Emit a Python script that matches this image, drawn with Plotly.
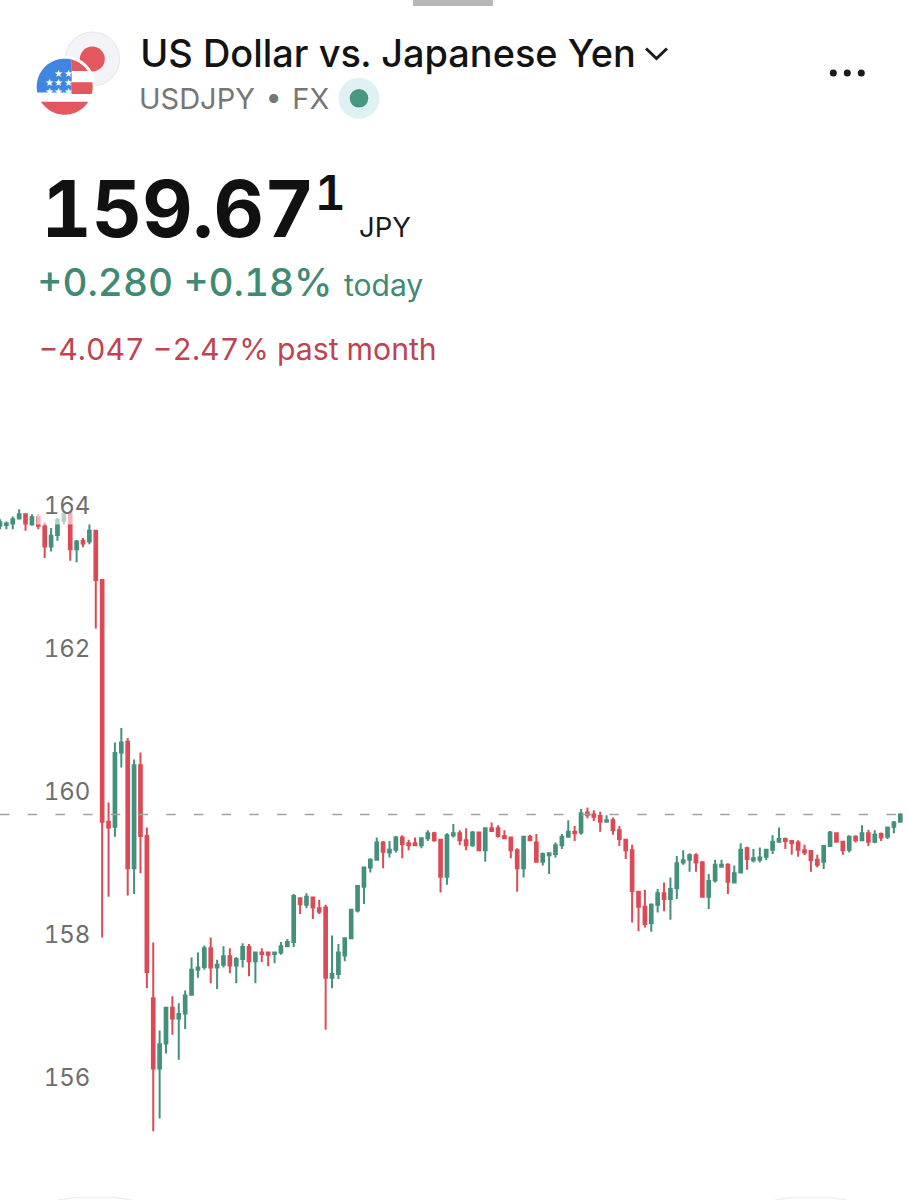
import numpy as np
import plotly.graph_objects as go

# USD/JPY candles
opens = [163.71, 163.72, 163.74, 163.81, 163.87, 163.73, 163.83, 163.70, 163.42, 163.58, 163.78, 163.88,
         163.38, 163.50, 163.49, 163.64, 162.95, 159.57, 159.50, 160.54, 160.69, 158.92, 160.36, 159.37,
         157.10, 156.12, 156.47, 156.97, 156.82, 156.89, 157.15, 157.50, 157.54, 157.80, 157.53, 157.57,
         157.69, 157.56, 157.65, 157.82, 157.62, 157.74, 157.74, 157.72, 157.74, 157.83, 157.89, 158.50,
         158.41, 158.51, 158.36, 158.37, 157.39, 157.44, 157.70, 157.94, 158.33, 158.66, 158.93, 159.04,
         159.28, 159.14, 159.18, 159.35, 159.27, 159.27, 159.24, 159.34, 159.41, 159.32, 158.80, 159.38,
         159.41, 159.31, 159.24, 159.42, 159.17, 159.48, 159.48, 159.37, 159.35, 159.17, 158.92, 159.36,
         159.28, 159.01, 159.10, 159.12, 159.24, 159.36, 159.43, 159.42, 159.70, 159.67, 159.65, 159.57,
         159.59, 159.45, 159.32, 159.17, 158.59, 158.38, 158.15, 158.41, 158.57, 158.49, 158.64, 159.00,
         159.04, 159.10, 159.00, 158.52, 158.75, 158.94, 158.97, 158.72, 158.86, 159.20, 159.03, 159.04,
         159.08, 159.18, 159.29, 159.33, 159.30, 159.28, 159.17, 159.16, 159.04, 159.01, 159.23, 159.41,
         159.29, 159.18, 159.36, 159.31, 159.41, 159.29, 159.40, 159.36, 159.50, 159.57]
highs = [163.80, 163.77, 163.84, 163.94, 163.87, 163.87, 163.87, 163.76, 163.68, 163.82, 163.90, 163.89,
         163.51, 163.54, 163.73, 163.64, 162.95, 159.84, 160.68, 160.88, 160.74, 160.44, 160.54, 159.49,
         157.88, 156.65, 156.97, 157.13, 157.03, 157.21, 157.67, 157.74, 157.84, 157.95, 157.64, 157.83,
         157.80, 157.68, 157.87, 157.86, 157.75, 157.80, 157.75, 157.74, 157.89, 157.93, 158.56, 158.51,
         158.57, 158.52, 158.48, 158.41, 157.98, 157.86, 157.95, 158.34, 158.68, 158.94, 159.06, 159.35,
         159.30, 159.30, 159.37, 159.38, 159.32, 159.35, 159.35, 159.45, 159.43, 159.33, 159.41, 159.54,
         159.45, 159.48, 159.44, 159.43, 159.49, 159.56, 159.52, 159.45, 159.35, 159.20, 159.37, 159.39,
         159.40, 159.14, 159.14, 159.28, 159.40, 159.59, 159.51, 159.75, 159.77, 159.73, 159.71, 159.66,
         159.63, 159.51, 159.33, 159.25, 158.59, 158.62, 158.43, 158.63, 158.72, 158.79, 159.09, 159.17,
         159.13, 159.13, 159.02, 158.84, 159.04, 159.04, 158.99, 158.96, 159.27, 159.22, 159.19, 159.21,
         159.19, 159.38, 159.49, 159.35, 159.31, 159.31, 159.25, 159.17, 159.11, 159.23, 159.44, 159.42,
         159.30, 159.38, 159.38, 159.52, 159.46, 159.45, 159.42, 159.50, 159.58, 159.69]
lows = [163.66, 163.66, 163.66, 163.80, 163.64, 163.71, 163.66, 163.26, 163.35, 163.50, 163.73, 163.22,
        163.20, 163.41, 163.45, 162.27, 157.95, 158.52, 159.36, 160.33, 158.54, 158.56, 158.85, 157.24,
        155.24, 155.42, 156.33, 156.59, 156.24, 156.67, 157.15, 157.39, 157.50, 157.31, 157.23, 157.53,
        157.45, 157.31, 157.53, 157.41, 157.31, 157.61, 157.55, 157.59, 157.71, 157.82, 157.82, 158.28,
        158.36, 158.21, 158.28, 156.66, 157.24, 157.37, 157.62, 157.94, 158.30, 158.42, 158.86, 159.03,
        158.92, 159.07, 159.14, 159.06, 159.17, 159.23, 159.20, 159.30, 159.29, 158.58, 158.69, 159.35,
        159.24, 159.17, 159.22, 159.17, 159.01, 159.43, 159.35, 159.33, 159.06, 158.59, 158.79, 159.30,
        159.00, 158.96, 158.84, 159.07, 159.19, 159.35, 159.30, 159.39, 159.62, 159.58, 159.43, 159.56,
        159.39, 159.23, 159.05, 158.16, 158.04, 158.09, 158.03, 158.30, 158.32, 158.20, 158.49, 158.97,
        158.87, 158.87, 158.51, 158.35, 158.72, 158.93, 158.56, 158.71, 158.85, 158.90, 159.00, 159.00,
        159.03, 159.12, 159.28, 159.19, 159.11, 159.08, 159.10, 158.87, 158.93, 158.91, 159.23, 159.28,
        159.11, 159.14, 159.28, 159.30, 159.23, 159.27, 159.30, 159.33, 159.41, 159.57]
closes = [163.76, 163.74, 163.80, 163.87, 163.74, 163.83, 163.71, 163.42, 163.57, 163.79, 163.87, 163.38,
          163.49, 163.46, 163.64, 162.95, 159.57, 159.49, 160.53, 160.68, 158.92, 160.36, 159.37, 157.47,
          156.12, 156.46, 156.97, 156.82, 156.88, 157.14, 157.50, 157.53, 157.80, 157.53, 157.57, 157.69,
          157.56, 157.65, 157.82, 157.62, 157.74, 157.72, 157.71, 157.74, 157.83, 157.89, 158.53, 158.42,
          158.52, 158.37, 158.31, 157.39, 157.44, 157.74, 157.94, 158.34, 158.67, 158.93, 159.04, 159.28,
          159.15, 159.18, 159.35, 159.26, 159.24, 159.24, 159.34, 159.41, 159.31, 158.80, 159.38, 159.41,
          159.31, 159.24, 159.42, 159.17, 159.48, 159.44, 159.37, 159.34, 159.17, 158.92, 159.36, 159.31,
          159.01, 159.12, 159.13, 159.24, 159.36, 159.43, 159.41, 159.69, 159.66, 159.64, 159.57, 159.59,
          159.45, 159.33, 159.17, 158.60, 158.38, 158.14, 158.41, 158.57, 158.49, 158.63, 158.99, 159.03,
          159.10, 159.00, 158.52, 158.74, 158.97, 158.97, 158.73, 158.85, 159.18, 159.05, 159.06, 159.07,
          159.18, 159.29, 159.33, 159.30, 159.27, 159.18, 159.14, 159.03, 158.97, 159.23, 159.42, 159.29,
          159.17, 159.36, 159.31, 159.41, 159.29, 159.39, 159.35, 159.49, 159.56, 159.67]
price_ticks = [156, 158, 160, 162, 164]
last_price = 159.671

WIDTH = 907
HEIGHT = 1200
GREEN = '#43917c'
RED = '#dc4a55'
FLAG_RED = '#e4575f'
FLAG_BLUE = '#3f86e0'
FONT = 'Inter'


def px_x(x):
    return x / WIDTH


def px_y(y):
    return 1 - y / HEIGHT


def to_path(points, close=True):
    cmds = ['%s%.5f,%.5f' % ('L' if k else 'M', px_x(x), px_y(y)) for k, (x, y) in enumerate(points)]
    return ' '.join(cmds) + (' Z' if close else '')


def disc(cx, cy, r, fill, line=None):
    return dict(type='circle', xref='paper', yref='paper',
                x0=px_x(cx - r), x1=px_x(cx + r), y0=px_y(cy + r), y1=px_y(cy - r),
                fillcolor=fill, line=dict(color=line or fill, width=1 if line else 0))


def flag_piece(x0, x1, y0, y1, fill):
    # part of the round flag that falls inside a rectangle
    cx, cy, r = 64.7, 86.7, 28
    t = np.linspace(0, 2 * np.pi, 120)
    pts = zip(np.clip(cx + r * np.cos(t), x0, x1), np.clip(cy + r * np.sin(t), y0, y1))
    return dict(type='path', xref='paper', yref='paper', path=to_path(pts),
                fillcolor=fill, line=dict(width=0))


def label(text, x, y, size, color, weight=400, **kwargs):
    return dict(text=text, x=px_x(x), y=px_y(y), xref='paper', yref='paper',
                xanchor='left', yanchor='middle', showarrow=False, borderpad=0,
                font=dict(family=FONT, size=size, color=color, weight=weight), **kwargs)


fig = go.Figure(go.Candlestick(
    x=list(range(len(closes))),
    open=opens, high=highs, low=lows, close=closes,
    increasing=dict(line=dict(color=GREEN, width=2), fillcolor=GREEN),
    decreasing=dict(line=dict(color=RED, width=2), fillcolor=RED),
    whiskerwidth=0,
    hoverinfo='skip',
))

shapes = [
    # current price line
    dict(type='line', xref='paper', yref='y', x0=0, x1=1, y0=last_price, y1=last_price,
         line=dict(color='#a2a2a2', width=1.5, dash='9.5px,18.2px')),
    # drag handle at the top
    dict(type='rect', xref='paper', yref='paper', x0=px_x(413), x1=px_x(493), y0=px_y(6), y1=1,
         fillcolor='#b8b8b8', line=dict(width=0)),
    # Japanese flag
    disc(92.5, 59, 27, '#f3f3f8', '#e5e5ec'),
    disc(92.3, 59, 12.5, FLAG_RED),
    # US flag
    disc(64.7, 86.7, 31, 'white'),
    disc(64.7, 86.7, 28, 'white'),
    flag_piece(71.7, 95, 55, 71, FLAG_RED),
    flag_piece(71.7, 95, 82.3, 94, FLAG_RED),
    flag_piece(30, 95, 101.7, 118, FLAG_RED),
    flag_piece(30, 71.7, 55, 92.4, FLAG_BLUE),
    # market status dot
    disc(359, 98.3, 20.5, '#e0f1f3'),
    disc(359, 98.3, 9.3, '#46987f'),
    # chevron
    dict(type='path', xref='paper', yref='paper',
         path=to_path([(646, 48.5), (656.5, 58.5), (667, 48.5)], close=False),
         line=dict(color='#1a1a1a', width=3)),
    # menu dots
    disc(833.3, 73, 3.5, '#1a1a1a'),
    disc(847.3, 73, 3.5, '#1a1a1a'),
    disc(861.3, 73, 3.5, '#1a1a1a'),
    # tab bar edges at the very bottom
    dict(type='path', xref='paper', yref='paper',
         path=to_path([(58, 1200), (75, 1197.5), (115, 1197.5), (132, 1200)], close=False),
         line=dict(color='#efefef', width=1.5)),
    dict(type='path', xref='paper', yref='paper',
         path=to_path([(775, 1200), (792, 1197.5), (830, 1197.5), (847, 1200)], close=False),
         line=dict(color='#efefef', width=1.5)),
]

annotations = [
    label('US Dollar vs. Japanese Yen', 138.5, 53, 37.9, '#131313', 500),
    label('USDJPY\u2009\u2009\u2022\u2009\u2009FX', 138, 98.3, 29, '#767676'),
    label('159.67', 51, 208, 78, '#111111', 700),
    label('1', 319, 192.5, 48, '#111111', 600),
    label('JPY', 358, 226.7, 27.5, '#1a1a1a'),
    label('+0.280 +0.18%', 43, 282, 38.7, '#3f8a74', 500),
    label('today', 343, 285, 30, '#3f8a74'),
    label('\u22124.047 \u22122.47% past month', 41, 349, 30.2, '#bd4450'),
]

# stars on the canton
for sx, sy in [(53.3, 66.7), (62.7, 66.7), (44.3, 76), (53.3, 76), (62.7, 76), (44.3, 85.3), (53.3, 85.3), (62.7, 85.3)]:
    annotations.append(dict(text='\u2605', x=px_x(sx), y=px_y(sy), xref='paper', yref='paper',
                            showarrow=False, borderpad=0,
                            font=dict(family='DejaVu Sans', size=10, color='white')))

# price labels sit on a see-through white box
for tick in price_ticks:
    annotations.append(dict(text=str(tick), x=px_x(36), y=tick, xref='paper', yref='y',
                            xanchor='left', yanchor='middle', showarrow=False, borderpad=0,
                            width=60, height=38, bgcolor='rgba(255,255,255,0.6)',
                            font=dict(family=FONT, size=24, color='#6e6e6e')))

fig.update_layout(
    width=WIDTH,
    height=HEIGHT,
    autosize=False,
    margin=dict(l=0, r=0, t=0, b=0),
    paper_bgcolor='white',
    plot_bgcolor='white',
    showlegend=False,
    boxgap=0.4,
    shapes=shapes,
    annotations=annotations,
    xaxis=dict(visible=False, range=[0, 142.05], rangeslider=dict(visible=False), fixedrange=True),
    yaxis=dict(visible=False, range=[154.28, 171.063], fixedrange=True),
)

# the app uses fixed width digits, and the page should sit flush with the window
post = """
document.body.style.margin = '0';
document.head.insertAdjacentHTML('beforeend', '<style>.annotation-text {font-feature-settings: "tnum";}</style>');
"""
fig.write_html('out.html', post_script=post, config={'displayModeBar': False})
